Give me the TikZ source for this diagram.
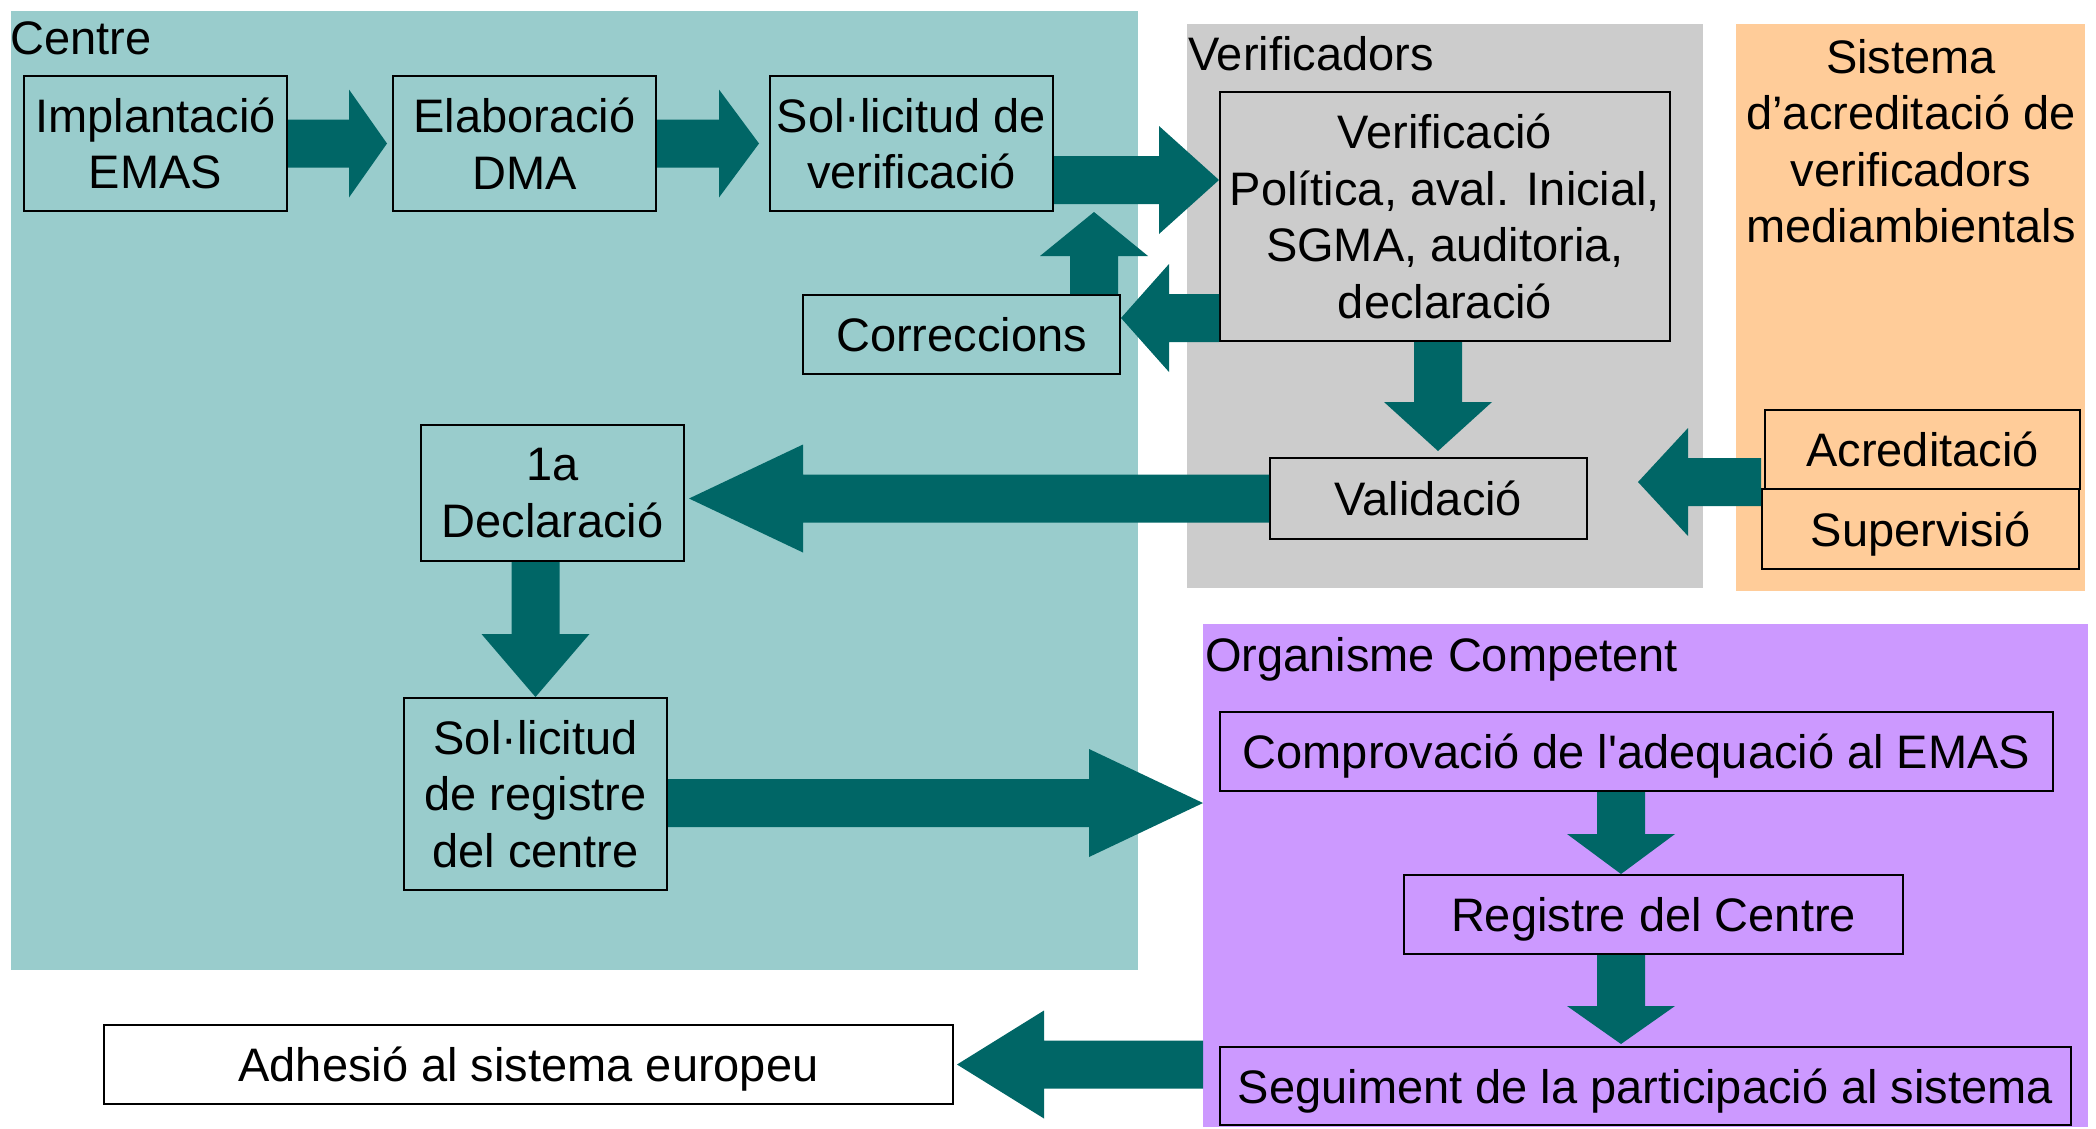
\documentclass[tikz,border=0pt]{standalone}
\usepackage{fontspec}
\setmainfont{Liberation Sans}
\usetikzlibrary{calc}
\definecolor{centrebg}{HTML}{99CCCC}
\definecolor{verifbg}{HTML}{CCCCCC}
\definecolor{sistbg}{HTML}{FFCC99}
\definecolor{orgbg}{HTML}{CC99FF}
\definecolor{arrowcol}{HTML}{006666}
\newcommand{\blockarrow}[3]{%
  \coordinate (hb) at ($(#2)!#3pt!(#1)$);
  \fill[arrowfill] ($(#1)!24pt!90:(#2)$) -- ($(hb)!24pt!90:(#2)$) -- ($(hb)!54pt!90:(#2)$) -- (#2)
    -- ($(hb)!54pt!-90:(#2)$) -- ($(hb)!24pt!-90:(#2)$) -- ($(#1)!24pt!-90:(#2)$) -- cycle;}
\begin{document}
\begin{tikzpicture}[x=1pt,y=-1pt,
  every node/.style={font=\fontsize{47pt}{56.5pt}\selectfont},
  bgnode/.style={anchor=north west, inner sep=0pt, draw=none},
  box/.style={draw=black, line width=2pt, inner sep=0pt, align=center},
  oneline/.style={box, text height=42pt, text depth=8pt},
  title/.style={anchor=base west, inner sep=0pt},
  arrowfill/.style={fill=arrowcol}]
\useasboundingbox (0,0) rectangle (2096,1128);
% regions
\node[bgnode, fill=centrebg, minimum width=1127pt, minimum height=959pt] (centrebox) at (11,11) {};
\node[bgnode, fill=verifbg, minimum width=516pt, minimum height=564pt] (verifbox) at (1187,24) {};
\node[bgnode, fill=sistbg, minimum width=349pt, minimum height=567pt] (sistbox) at (1736,24) {};
\node[bgnode, fill=orgbg, minimum width=885pt, minimum height=503pt] (orgbox) at (1203,624) {};
% titles
\node[title] (centret) at (10,54) {Centre};
\node[title] (verift) at (1188,70) {Verificadors};
\node[title] (orgt) at (1205,671) {Organisme Competent};
\node[align=center, inner sep=0pt] (sistt) at (1911,141) {Sistema\\d’acreditació de\\verificadors\\mediambientals};
% boxes
\node[box, minimum width=263pt, minimum height=135pt] (impl) at (155.5,143.5) {Implantació\\EMAS};
\node[box, minimum width=263pt, minimum height=135pt] (elab) at (524.5,143.5) {Elaboració\\DMA};
\node[box, minimum width=283pt, minimum height=135pt] (solv) at (911.5,143.5) {Sol·licitud de\\verificació};
\node[box, minimum width=450pt, minimum height=249pt] (verif) at (1445,216.5) {Verificació\\Política, aval. Inicial,\\SGMA, auditoria,\\declaració};
\node[oneline, minimum width=317pt, minimum height=79pt] (corr) at (961.5,334.5) {Correccions};
\node[oneline, minimum width=317pt, minimum height=81pt] (valid) at (1428.5,498.5) {Validació};
\node[oneline, minimum width=315pt, minimum height=79pt] (acred) at (1922.5,449.5) {Acreditació};
\node[oneline, minimum width=317pt, minimum height=80pt] (superv) at (1920.5,529) {Supervisió};
\node[box, minimum width=263pt, minimum height=136pt] (decl) at (552.5,493) {1a\\Declaració};
\node[box, minimum width=263pt, minimum height=192pt] (solr) at (535.5,794) {Sol·licitud\\de registre\\del centre};
\node[oneline, minimum width=833pt, minimum height=79pt] (compr) at (1636.5,751.5) {Comprovació de l\textquotesingle adequació al EMAS};
\node[oneline, minimum width=499pt, minimum height=79pt] (regc) at (1653.5,914.5) {Registre del Centre};
\node[oneline, minimum width=851pt, minimum height=78pt] (segu) at (1645.5,1086) {Seguiment de la participació al sistema};
\node[oneline, fill=white, minimum width=849pt, minimum height=79pt] (adh) at (528.5,1064.5) {Adhesió al sistema europeu};
% arrows
\coordinate (a1s) at (impl.east); \coordinate (a1e) at ($(elab.west)+(-5,0)$);
\blockarrow{a1s}{a1e}{38}
\coordinate (a2s) at (elab.east); \coordinate (a2e) at ($(solv.west)+(-10,0)$);
\blockarrow{a2s}{a2e}{40}
\coordinate (a3s) at ([yshift=-36.5pt]solv.east); \coordinate (a3e) at (a3s -| verif.west);
\blockarrow{a3s}{a3e}{60}
\coordinate (a4s) at ([xshift=-27pt]corr.north east); \coordinate (a4e) at (a4s |- solv.south);
\blockarrow{a4s}{a4e}{44}
\coordinate (a5s) at ([yshift=24pt]verif.south west); \coordinate (a5e) at (a5s -| corr.east);
\blockarrow{a5s}{a5e}{48}
\coordinate (a6s) at ([xshift=-7pt]verif.south); \coordinate (a6e) at ($(a6s |- valid.north)+(0,-6)$);
\blockarrow{a6s}{a6e}{49}
\coordinate (a7s) at (valid.west); \coordinate (a7e) at ($(a7s -| decl.east)+(4,0)$);
\blockarrow{a7s}{a7e}{114}
\coordinate (a8s) at ([yshift=6pt]superv.north west); \coordinate (a8e) at ($(a8s -| valid.east)+(50,0)$);
\blockarrow{a8s}{a8e}{50}
\coordinate (a9s) at (solr.north |- decl.south); \coordinate (a9e) at (solr.north);
\blockarrow{a9s}{a9e}{63}
\coordinate (a10s) at ([yshift=-9pt]solr.east); \coordinate (a10e) at (a10s -| orgbox.west);
\blockarrow{a10s}{a10e}{114}
\coordinate (a11s) at ([xshift=-15.5pt]compr.south); \coordinate (a11e) at (a11s |- regc.north);
\blockarrow{a11s}{a11e}{40}
\coordinate (a12s) at (a11s |- regc.south); \coordinate (a12e) at ($(a12s |- segu.north)+(0,-2)$);
\blockarrow{a12s}{a12e}{38}
\coordinate (a13s) at (adh.east -| orgbox.west); \coordinate (a13e) at ($(adh.east)+(3,0)$);
\blockarrow{a13s}{a13e}{87}
\end{tikzpicture}
\end{document}
